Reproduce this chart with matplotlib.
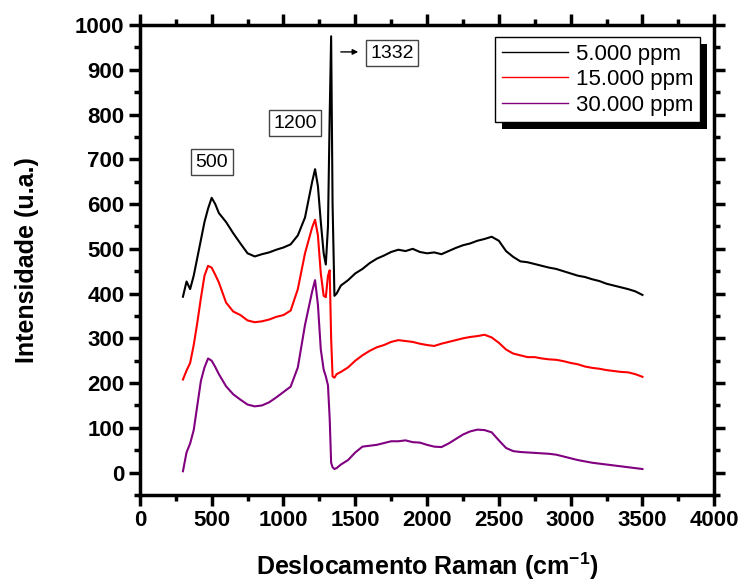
import matplotlib
matplotlib.use("Agg")
import matplotlib.pyplot as plt
from matplotlib.patches import Rectangle
from matplotlib.ticker import MultipleLocator

plt.rcParams["font.family"] = ["Liberation Sans", "DejaVu Sans"]
plt.rcParams["mathtext.fontset"] = "custom"
plt.rcParams["mathtext.rm"] = "Liberation Sans"
plt.rcParams["mathtext.bf"] = "Liberation Sans:bold"

# Raman shift (cm-1)
shift = [300, 325, 350, 375, 400, 425, 450, 475, 500, 525, 550, 600, 650, 700,
         750, 800, 850, 900, 950, 1000, 1050, 1100, 1150, 1200, 1220, 1240,
         1260, 1280, 1295, 1310, 1322, 1332, 1342, 1355, 1370, 1400, 1450,
         1500, 1550, 1600, 1650, 1700, 1750, 1800, 1850, 1900, 1950, 2000,
         2050, 2100, 2150, 2200, 2250, 2300, 2350, 2400, 2450, 2500, 2550,
         2600, 2650, 2700, 2750, 2800, 2850, 2900, 2950, 3000, 3050, 3100,
         3150, 3200, 3250, 3300, 3350, 3400, 3450, 3500]

ppm_5000 = [393, 427, 410, 440, 480, 520, 560, 590, 614, 600, 580, 560, 535, 512,
            490, 483, 488, 492, 498, 503, 510, 530, 570, 650, 678, 640,
            560, 490, 465, 550, 800, 975, 600, 395, 400, 418, 430,
            445, 455, 468, 478, 485, 493, 498, 495, 500, 493, 490,
            492, 488, 495, 502, 508, 512, 518, 522, 527, 518, 495,
            482, 472, 470, 466, 462, 458, 455, 450, 445, 440, 437,
            432, 428, 422, 418, 414, 410, 405, 397]

ppm_15000 = [208, 228, 245, 285, 335, 390, 440, 462, 458, 442, 425, 380, 360, 352,
             340, 336, 338, 342, 348, 352, 362, 410, 490, 548, 565, 530,
             445, 395, 392, 440, 452, 300, 215, 212, 220, 225, 235,
             250, 262, 272, 280, 285, 292, 296, 294, 292, 288, 285,
             283, 288, 292, 296, 300, 303, 305, 308, 302, 290, 275,
             266, 262, 258, 258, 255, 253, 252, 249, 245, 242, 237,
             234, 232, 229, 227, 225, 224, 220, 214]

ppm_30000 = [3, 45, 65, 95, 150, 205, 235, 255, 250, 236, 220, 193, 175, 163,
             152, 148, 150, 157, 168, 180, 192, 235, 330, 405, 430, 375,
             275, 230, 215, 195, 120, 22, 12, 8, 10, 18, 28,
             45, 58, 60, 62, 66, 70, 70, 72, 68, 67, 62,
             58, 57, 65, 75, 85, 92, 96, 95, 90, 72, 55,
             48, 46, 45, 44, 43, 42, 40, 36, 32, 28, 25,
             22, 20, 18, 16, 14, 12, 10, 8]

labels = ["5.000 ppm", "15.000 ppm", "30.000 ppm"]
colors = ["black", "red", "#800080"]

fig = plt.figure(figsize=(7.44, 5.83), dpi=100)
ax = fig.add_axes([0.188, 0.151, 0.772, 0.806])

for y, lab, c in zip([ppm_5000, ppm_15000, ppm_30000], labels, colors):
    ax.plot(shift, y, color=c, lw=1.5, label=lab)

ax.set_xlim(0, 4000)
ax.set_ylim(-50, 1000)
ax.xaxis.set_major_locator(MultipleLocator(500))
ax.xaxis.set_minor_locator(MultipleLocator(250))
ax.yaxis.set_minor_locator(MultipleLocator(50))
ax.set_yticks(range(0, 1001, 100))

for s in ax.spines.values():
    s.set_linewidth(2.5)
ax.tick_params(which="both", direction="out", top=True, right=True, width=2.5)
ax.tick_params(which="major", length=8, labelsize=16, pad=3)
ax.tick_params(which="minor", length=4)
for t in ax.get_xticklabels() + ax.get_yticklabels():
    t.set_fontweight("bold")

ax.set_xlabel(r"Deslocamento Raman (cm$^{\mathbf{-1}}$)", fontsize=18,
              fontweight="bold", labelpad=14)
ax.set_ylabel("Intensidade (u.a.)", fontsize=18, fontweight="bold", labelpad=26)

box = dict(boxstyle="square,pad=0.22", fc="white", ec="#444444", lw=1)
ax.text(502, 694, "500", fontsize=14, ha="center", va="center", bbox=box)
ax.text(1080, 781, "1200", fontsize=14, ha="center", va="center", bbox=box)
ax.text(1756, 937, "1332", fontsize=14, ha="center", va="center", bbox=box)
ax.annotate("", xy=(1540, 940), xytext=(1380, 940),
            arrowprops=dict(arrowstyle="-|>", color="black", lw=1,
                            mutation_scale=8))

leg = ax.legend(loc="upper right", bbox_to_anchor=(0.9756, 0.9745),
                borderaxespad=0, fontsize=16, handlelength=3.0,
                labelspacing=0.2, handletextpad=0.35, borderpad=0.3,
                fancybox=False, edgecolor="black", framealpha=1)
leg.get_frame().set_linewidth(1)
for line in leg.get_lines():
    line.set_linewidth(1)
leg.set_zorder(5)

# black drop shadow behind the legend box
fig.canvas.draw()
bb = leg.get_frame().get_window_extent()
shadow = Rectangle((bb.x0 + 7, bb.y0 - 7), bb.width, bb.height,
                   transform=None, fc="black", ec="none", zorder=4,
                   clip_on=False)
ax.add_artist(shadow)

fig.savefig("out.png", dpi=100)
